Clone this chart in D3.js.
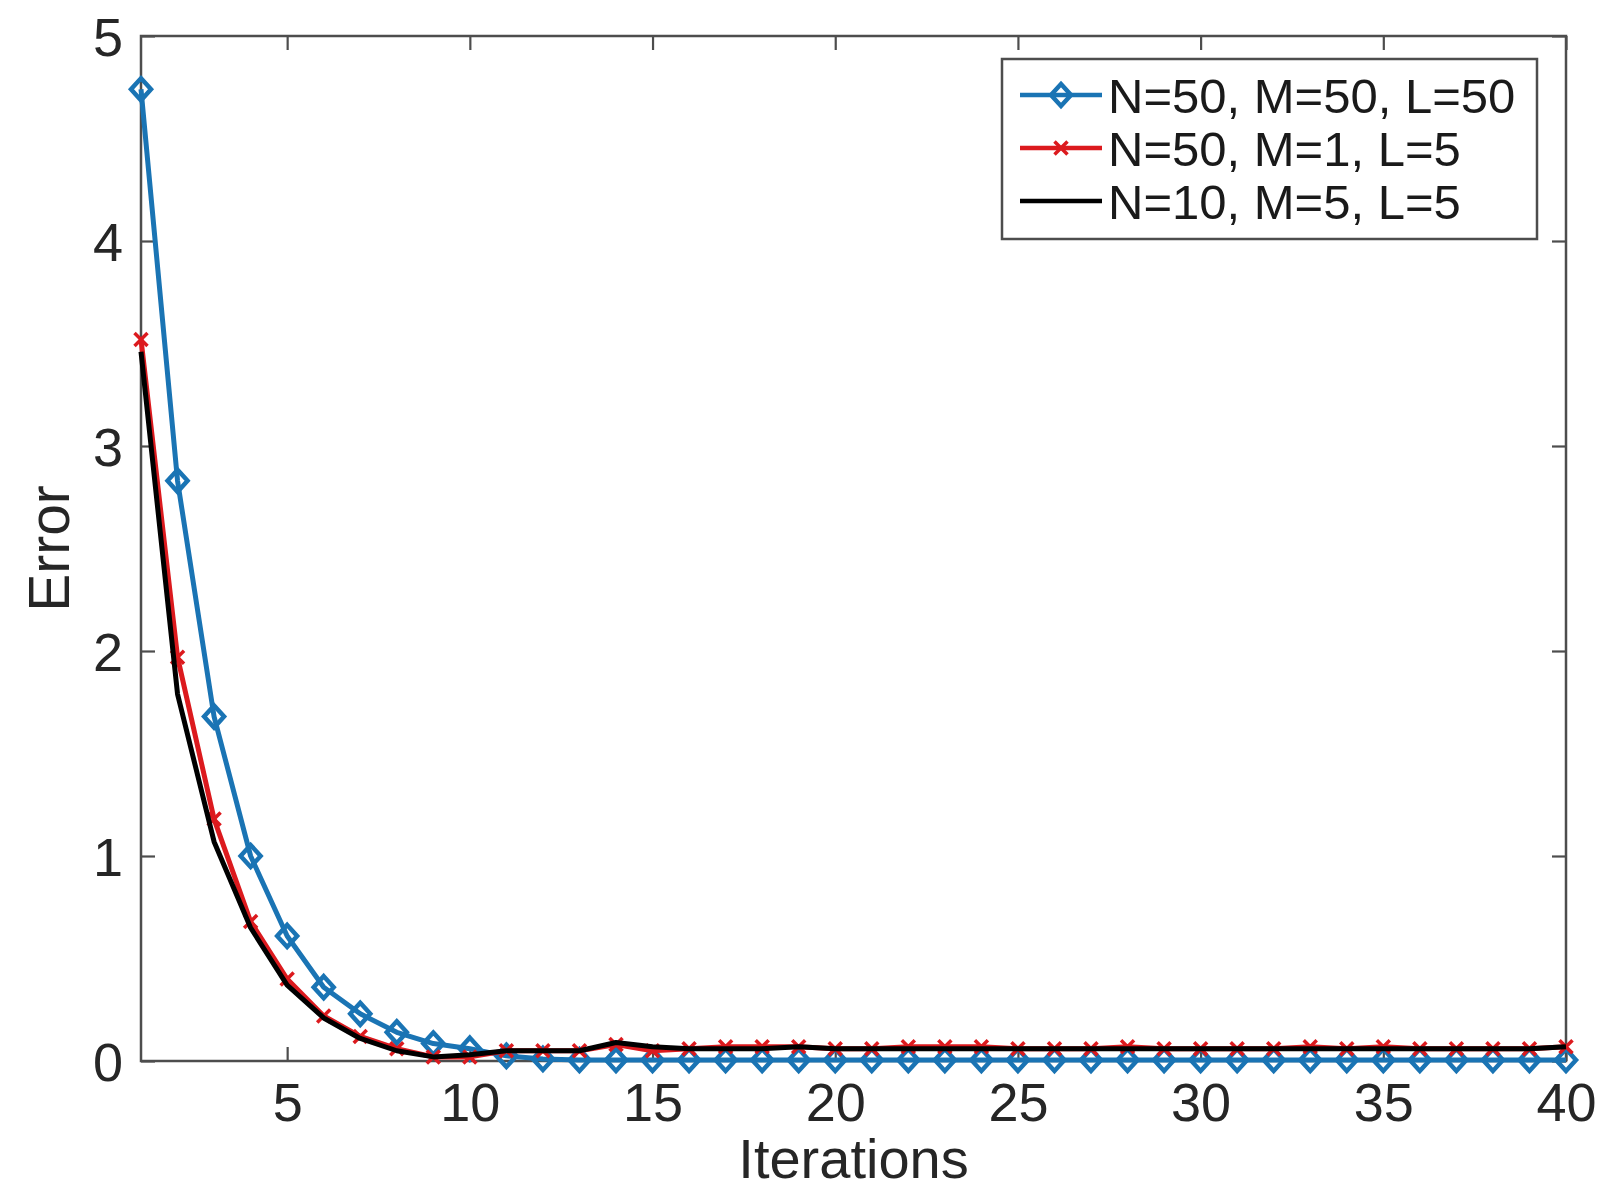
<!DOCTYPE html>
<html>
<head>
<meta charset="utf-8">
<script src="https://cdn.jsdelivr.net/npm/d3@7"></script>
<style>
  html, body { margin: 0; padding: 0; background: #fff; }
  svg { display: block; }
</style>
</head>
<body>
<svg id="chart"></svg>
<script>
// error vs. iterations, three parameter settings

var iterations = d3.range(1, 41);

var seriesNames = ["N=50, M=50, L=50", "N=50, M=1, L=5", "N=10, M=5, L=5"];

var errBlue = [4.74, 2.83, 1.68, 1.00, 0.61, 0.36, 0.23, 0.14, 0.085, 0.06,
               0.025, 0.01, 0.005, 0.005, 0.005, 0.005, 0.005, 0.005, 0.005, 0.005,
               0.005, 0.005, 0.005, 0.005, 0.005, 0.005, 0.005, 0.005, 0.005, 0.005,
               0.005, 0.005, 0.005, 0.005, 0.005, 0.005, 0.005, 0.005, 0.005, 0.005];

var errRed = [3.52, 1.97, 1.18, 0.68, 0.40, 0.22, 0.12, 0.06, 0.02, 0.02,
              0.05, 0.05, 0.05, 0.08, 0.05, 0.06, 0.07, 0.07, 0.07, 0.06,
              0.06, 0.07, 0.07, 0.07, 0.06, 0.06, 0.06, 0.07, 0.06, 0.06,
              0.06, 0.06, 0.07, 0.06, 0.07, 0.06, 0.06, 0.06, 0.06, 0.07];

var errBlack = [3.46, 1.79, 1.07, 0.65, 0.37, 0.21, 0.11, 0.05, 0.02, 0.03,
                0.05, 0.05, 0.05, 0.09, 0.07, 0.06, 0.06, 0.06, 0.07, 0.06,
                0.06, 0.06, 0.06, 0.06, 0.06, 0.06, 0.06, 0.06, 0.06, 0.06,
                0.06, 0.06, 0.06, 0.06, 0.06, 0.06, 0.06, 0.06, 0.06, 0.07];

var xTicks = [5, 10, 15, 20, 25, 30, 35, 40];
var yTicks = [0, 1, 2, 3, 4, 5];

var width = 1599, height = 1191;
// plot box (window.top is taken, hence the prefix)
var pLeft = 141, pRight = 1566, pTop = 36, pBottom = 1061;
var font = "'Liberation Sans', Arial, Helvetica, sans-serif";
var axisColor = "#4d4d4d";
var tickLen = 14;

var series = [
  { name: seriesNames[0], values: errBlue, color: "#1a74b4", marker: "diamond" },
  { name: seriesNames[1], values: errRed, color: "#dc1a1e", marker: "cross" },
  { name: seriesNames[2], values: errBlack, color: "#000000", marker: null }
];

var svg = d3.select("#chart").attr("width", width).attr("height", height);

var x = d3.scaleLinear().domain([1, 40]).range([pLeft, pRight]);
var y = d3.scaleLinear().domain([0, 5]).range([pBottom, pTop]);

// axes with inward ticks on all four sides (box on)
var ax = svg.append("g")
  .attr("transform", "translate(0," + pBottom + ")")
  .call(d3.axisBottom(x).tickValues(xTicks).tickSize(-tickLen).tickPadding(22));
var axTop = svg.append("g")
  .attr("transform", "translate(0," + pTop + ")")
  .call(d3.axisTop(x).tickValues(xTicks).tickSize(-tickLen).tickFormat(""));
var ay = svg.append("g")
  .attr("transform", "translate(" + pLeft + ",0)")
  .call(d3.axisLeft(y).tickValues(yTicks).tickSize(-tickLen).tickPadding(18)
    .tickFormat(d3.format("d")));
var ayRight = svg.append("g")
  .attr("transform", "translate(" + pRight + ",0)")
  .call(d3.axisRight(y).tickValues(yTicks).tickSize(-tickLen).tickFormat(""));

[ax, axTop, ay, ayRight].forEach(function(g) {
  g.select(".domain").remove();
  g.selectAll(".tick line").attr("stroke", axisColor).attr("stroke-width", 2.2);
  g.selectAll(".tick text")
    .attr("fill", "#262626")
    .style("font-family", font)
    .style("font-size", "54px");
});
ax.selectAll(".tick text").attr("dy", "0.71em");
ay.selectAll(".tick text").attr("dy", "0.36em");

svg.append("rect")
  .attr("x", pLeft).attr("y", pTop)
  .attr("width", pRight - pLeft).attr("height", pBottom - pTop)
  .attr("fill", "none").attr("stroke", axisColor).attr("stroke-width", 2.5);

svg.append("text")
  .attr("x", (pLeft + pRight) / 2).attr("y", 1178)
  .attr("text-anchor", "middle")
  .attr("fill", "#262626")
  .style("font-family", font).style("font-size", "56px")
  .text("Iterations");

svg.append("text")
  .attr("transform", "translate(69," + (pTop + pBottom) / 2 + ") rotate(-90)")
  .attr("text-anchor", "middle")
  .attr("fill", "#262626")
  .style("font-family", font).style("font-size", "57px")
  .text("Error");

// lines and markers
var line = d3.line()
  .x(function(d, i) { return x(iterations[i]); })
  .y(function(d) { return y(d); });

function drawMarker(g, type, color, cx, cy) {
  if (type == "diamond") {
    g.append("path")
      .attr("d", "M" + cx + "," + (cy - 11) + "L" + (cx + 10) + "," + cy +
                 "L" + cx + "," + (cy + 11) + "L" + (cx - 10) + "," + cy + "Z")
      .attr("fill", "none").attr("stroke", color).attr("stroke-width", 4.5);
  } else if (type == "cross") {
    var s = 6.5;
    g.append("path")
      .attr("d", "M" + (cx - s) + "," + (cy - s) + "L" + (cx + s) + "," + (cy + s) +
                 "M" + (cx - s) + "," + (cy + s) + "L" + (cx + s) + "," + (cy - s))
      .attr("stroke", color).attr("stroke-width", 3.5);
  }
}

series.forEach(function(s) {
  var g = svg.append("g");
  g.append("path")
    .datum(s.values)
    .attr("d", line)
    .attr("fill", "none")
    .attr("stroke", s.color)
    .attr("stroke-width", 5)
    .attr("stroke-linejoin", "round");
  if (s.marker)
    s.values.forEach(function(v, i) {
      drawMarker(g, s.marker, s.color, x(iterations[i]), y(v));
    });
});

// legend
var lg = svg.append("g");
lg.append("rect")
  .attr("x", 1002).attr("y", 59)
  .attr("width", 535).attr("height", 180)
  .attr("fill", "#fff").attr("stroke", axisColor).attr("stroke-width", 2.5);

series.forEach(function(s, i) {
  var ly = 95 + i * 53;
  lg.append("line")
    .attr("x1", 1020).attr("x2", 1102)
    .attr("y1", ly).attr("y2", ly)
    .attr("stroke", s.color).attr("stroke-width", 4.5);
  if (s.marker) drawMarker(lg, s.marker, s.color, 1061, ly);
  lg.append("text")
    .attr("x", 1108).attr("y", ly)
    .attr("dy", "0.36em")
    .attr("fill", "#1a1a1a")
    .style("font-family", font).style("font-size", "49px")
    .text(s.name);
});
</script>
</body>
</html>
